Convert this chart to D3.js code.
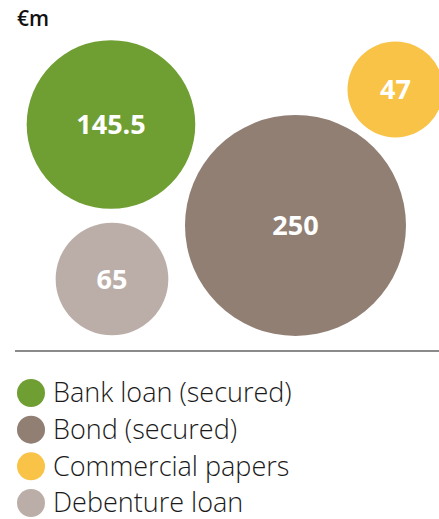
<!DOCTYPE html>
<html>
<head>
<meta charset="utf-8">
<script src="https://cdn.jsdelivr.net/npm/d3@7"></script>
<style>
  html, body { margin: 0; padding: 0; background: #fff; }
  svg { display: block; }
</style>
</head>
<body>
<svg id="chart" width="439" height="519"></svg>
<script>
// Financing instruments, € million
const categories = ["Bank loan (secured)", "Bond (secured)", "Commercial papers", "Debenture loan"];
const values = [145.5, 250, 47, 65];
const valueLabels = ["145.5", "250", "47", "65"];
const colors = ["#6f9e33", "#917f74", "#f8c346", "#bbaea8"];
const unitLabel = "€m";

// Bubble centres in layout units (0..1 of the plotting area)
const layoutX = [0.2528, 0.6731, 0.9007, 0.2551];
const layoutY = [0.3288, 0.6348, 0.2227, 0.797];

const svg = d3.select("#chart");
const W = 439, H = 519;

const plot = { left: 0, right: W, top: 16, bottom: 346 };

const x = d3.scaleLinear().domain([0, 1]).range([plot.left, plot.right]);
const y = d3.scaleLinear().domain([0, 1]).range([plot.top, plot.bottom]);
const r = d3.scaleSqrt().domain([0, 250]).range([0, 110.5]);

const data = categories.map((c, i) => ({
  name: c, value: values[i], label: valueLabels[i], color: colors[i],
  cx: x(layoutX[i]), cy: y(layoutY[i])
}));

// unit label
svg.append("text")
  .attr("x", 17).attr("y", 26)
  .attr("font-family", "'Open Sans', sans-serif")
  .attr("font-weight", 600)
  .attr("font-size", 21)
  .attr("fill", "#111")
  .text(unitLabel);

const bubbles = svg.append("g").selectAll("g").data(data).join("g");

bubbles.append("circle")
  .attr("cx", d => d.cx)
  .attr("cy", d => d.cy)
  .attr("r", d => r(d.value))
  .attr("fill", d => d.color);

bubbles.append("text")
  .attr("x", d => d.cx)
  .attr("y", d => d.cy)
  .attr("dy", "0.36em")
  .attr("text-anchor", "middle")
  .attr("font-family", "'Open Sans', sans-serif")
  .attr("font-weight", 700)
  .attr("font-size", 27)
  .attr("fill", "#fff")
  .text(d => d.label);

// separator
svg.append("line")
  .attr("x1", 15).attr("x2", W)
  .attr("y1", 351).attr("y2", 351)
  .attr("stroke", "#8a8a8a")
  .attr("stroke-width", 2);

// legend
const legendY = d3.scalePoint().domain(categories).range([393, 503]);
const legend = svg.append("g").selectAll("g").data(data).join("g")
  .attr("transform", d => `translate(0,${legendY(d.name)})`);

legend.append("circle")
  .attr("cx", 31).attr("cy", 0).attr("r", 14)
  .attr("fill", d => d.color);

legend.append("text")
  .attr("x", 53).attr("y", 0)
  .attr("dy", "0.35em")
  .attr("font-family", "'Open Sans', sans-serif")
  .attr("font-weight", 300)
  .attr("font-size", 27)
  .attr("fill", "#1a1a1a")
  .text(d => d.name);
</script>
</body>
</html>
